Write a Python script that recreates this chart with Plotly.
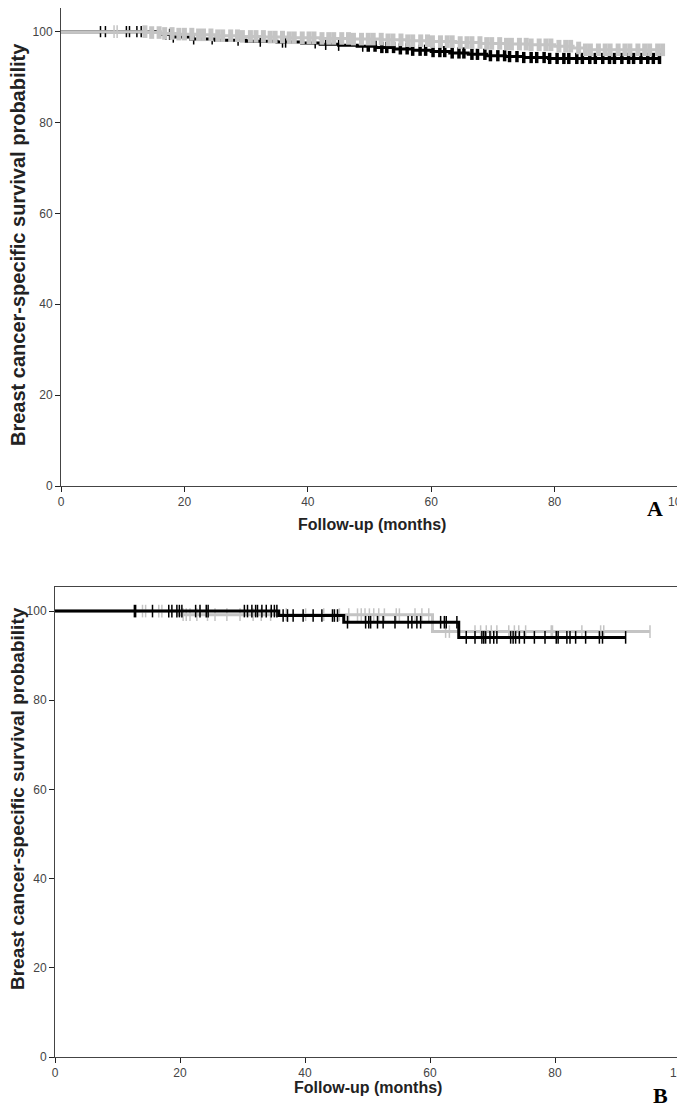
import numpy as np
import plotly.graph_objects as go

# ---------------- Panel A data ----------------
a_black_times = [0, 16, 18, 21, 25, 30, 35, 39, 42, 45, 48, 51, 54, 57, 60, 63, 66, 69, 72, 75, 79]
a_black_surv = [100, 99.4, 98.8, 98.4, 98.1, 97.9, 97.7, 97.5, 97.2, 97.0, 96.8, 96.5, 96.2, 95.9, 95.6, 95.3, 95.0, 94.7, 94.5, 94.3, 94.1]
a_black_end = 97.0
a_black_censor = [6.4, 7.2, 10.6, 11.1, 12.3, 13.0, 17.0, 17.6, 18.2, 21.5, 24.5, 28.7, 32.3, 35.9, 36.4,
                  41.2, 42.9, 45.0, 48.9, 49.8, 50.9, 52.0, 52.8, 53.9, 55.0, 56.1, 57.0, 58.2, 59.1,
                  60.3, 61.4, 62.2, 63.4, 64.5, 65.3, 66.6, 67.5, 68.7, 69.6, 70.8, 71.9, 72.7, 73.9,
                  75.0, 76.2, 77.1, 78.3, 79.2, 80.4, 81.5, 82.3, 83.6, 84.5, 85.7, 86.6, 87.8, 88.9,
                  89.7, 90.9, 92.0, 92.8, 94.0, 95.1, 96.0, 97.0]

a_gray_times = [0, 14, 16, 19, 22, 25, 29, 33, 37, 42, 47, 52, 56, 60, 64, 68, 72, 76, 80, 83, 85]
a_gray_surv = [100, 99.8, 99.6, 99.45, 99.3, 99.1, 98.95, 98.8, 98.65, 98.5, 98.35, 98.2, 98.0, 97.8, 97.6, 97.4, 97.25, 97.1, 96.8, 96.4, 96.0]
a_gray_end = 97.5
a_gray_censor = [8.6, 9.1, 13.6, 14.7, 15.9, 16.8, 18.0, 19.1, 20.0, 21.2, 22.3, 23.1, 24.3, 25.4, 26.2,
                 27.5, 28.6, 29.4, 30.7, 31.6, 32.8, 33.9, 34.7, 35.9, 37.0, 37.8, 39.1, 40.2, 41.0,
                 42.3, 43.4, 44.2, 45.5, 46.6, 47.4, 48.7, 49.8, 50.6, 51.9, 53.0, 53.8, 55.1, 56.2,
                 57.0, 58.3, 59.4, 60.2, 61.5, 62.6, 63.4, 64.7, 65.8, 66.6, 67.9, 69.0, 69.8, 71.1,
                 72.2, 73.0, 74.3, 75.4, 76.2, 77.5, 78.6, 79.4, 80.7, 81.8, 82.6, 83.9, 85.0, 85.8,
                 87.1, 88.2, 89.0, 90.3, 91.4, 92.2, 93.5, 94.6, 95.4, 96.7, 97.5]

# ---------------- Panel B data ----------------
b_black_times = [0, 35.8, 46.2, 64.6]
b_black_surv = [100, 99.0, 97.5, 94.1]
b_black_end = 91.3
b_black_censor = [12.7, 12.9, 15.6, 18.2, 18.7, 19.5, 19.9, 20.3, 22.5, 23.2, 24.2, 24.5, 30.3, 30.8,
                  31.5, 32.1, 32.4, 33.1, 33.8, 34.6, 35.1, 35.5, 36.5, 37.2, 38.1, 39.7, 41.3, 42.7,
                  44.4, 44.7, 45.2, 46.8, 49.7, 50.2, 50.5, 51.6, 52.5, 54.4, 56.5, 57.1, 57.9, 58.5,
                  61.7, 62.3, 62.6, 64.3, 65.8, 67.2, 68.3, 68.6, 68.9, 69.6, 70.2, 70.7, 72.9, 73.3,
                  73.7, 74.3, 75.1, 76.7, 78.4, 80.2, 80.5, 81.9, 82.4, 83.3, 84.9, 87.1, 87.6, 91.3]

b_gray_times = [0, 19.8, 60.4]
b_gray_surv = [100, 99.2, 95.4]
b_gray_end = 95.2
b_gray_censor = [14.0, 14.5, 16.6, 17.1, 20.5, 21.0, 21.6, 22.7, 24.4, 25.6, 27.5, 29.6, 31.7, 33.0,
                 34.5, 37.0, 40.1, 43.0, 45.5, 47.0, 48.4, 49.0, 49.6, 50.3, 51.0, 51.8, 52.7, 54.6,
                 55.1, 57.6, 58.7, 59.8, 62.5, 63.1, 67.2, 68.1, 69.0, 69.8, 70.7, 72.6, 73.5, 74.2,
                 75.3, 79.4, 79.6, 84.3, 87.3, 87.8, 95.2]

x_ticks = [0, 20, 40, 60, 80, 100]
y_ticks = [0, 20, 40, 60, 80, 100]

BLACK = "#000000"
GRAY = "#c4c4c4"


def surv_at(times, surv, t):
    idx = np.searchsorted(np.array(times), np.array(t), side="right") - 1
    return np.array(surv)[idx]


def add_km(fig, times, surv, end, censor, color, xa, ya, msize, mwidth, dense_from=None, dense_width=None):
    xs = list(times) + [end]
    ys = list(surv) + [surv[-1]]
    fig.add_trace(go.Scatter(x=xs, y=ys, mode="lines", line=dict(color=color, width=3, shape="hv"),
                             xaxis=xa, yaxis=ya, showlegend=False, hoverinfo="skip"))
    widths = mwidth
    if dense_from is not None:
        widths = [dense_width if t >= dense_from else mwidth for t in censor]
    fig.add_trace(go.Scatter(x=censor, y=surv_at(times, surv, censor), mode="markers",
                             marker=dict(symbol="line-ns", size=msize, color=color,
                                         line=dict(color=color, width=widths)),
                             xaxis=xa, yaxis=ya, showlegend=False, hoverinfo="skip"))


fig = go.Figure()
# Panel A: black below gray
add_km(fig, a_black_times, a_black_surv, a_black_end, a_black_censor, BLACK, "x", "y", 8, 1.5, 49.5, 3.5)
add_km(fig, a_gray_times, a_gray_surv, a_gray_end, a_gray_censor, GRAY, "x", "y", 9, 1.5, 13.5, 5)
# Panel B: gray below black
add_km(fig, b_gray_times, b_gray_surv, b_gray_end, b_gray_censor, GRAY, "x2", "y2", 9, 1.5)
add_km(fig, b_black_times, b_black_surv, b_black_end, b_black_censor, BLACK, "x2", "y2", 9, 1.5)

# page offset of the plot div (browser body margin)
OFF = 8
W, H = 685 - OFF, 1111 - OFF


def px(v):
    return (v - OFF) / W


def py(v):
    return 1 - (v - OFF) / H


tickfont = dict(family="Liberation Sans, Arial, sans-serif", size=12, color="#444444")
ax_common = dict(showgrid=False, zeroline=False, showline=True, mirror=True, linecolor="#444444",
                 linewidth=1, ticks="outside", ticklen=5, tickcolor="#222222", tickwidth=1,
                 tickfont=tickfont, automargin=False)

fig.update_layout(
    width=W, height=H, margin=dict(l=0, r=0, t=0, b=0),
    paper_bgcolor="white", plot_bgcolor="white",
    xaxis=dict(domain=[px(61), px(678)], anchor="y", range=[0, 100], tickvals=x_ticks,
               ticklabeloverflow="allow", **ax_common),
    yaxis=dict(domain=[py(486), min(py(2), 1)], anchor="x", range=[0, 105.2],
               tickvals=y_ticks, **ax_common),
    xaxis2=dict(domain=[px(55), min(px(680), 1)], anchor="y2", range=[0, 100], tickvals=x_ticks,
                ticklabeloverflow="allow", **ax_common),
    yaxis2=dict(domain=[py(1057), py(587)], anchor="x2", range=[0, 105.4], tickvals=y_ticks, **ax_common),
)

xtitle_font = dict(family="Liberation Sans, Arial, sans-serif", size=16, color="#222222")
ytitle = "<b>Breast cancer-specific survival probability</b>"
xtitle = "<b>Follow-up (months)</b>"
annos = [
    dict(text=xtitle, x=px(372), y=py(524), xref="paper", yref="paper", showarrow=False,
         xanchor="center", yanchor="middle", font=xtitle_font),
    dict(text=xtitle, x=px(368), y=py(1087), xref="paper", yref="paper", showarrow=False,
         xanchor="center", yanchor="middle", font=xtitle_font),
    dict(text=ytitle, x=px(18), y=py(245), xref="paper", yref="paper", showarrow=False,
         xanchor="center", yanchor="middle", textangle=-90,
         font=dict(family="Liberation Sans, Arial, sans-serif", size=20, color="#222222")),
    dict(text=ytitle, x=px(17), y=py(799), xref="paper", yref="paper", showarrow=False,
         xanchor="center", yanchor="middle", textangle=-90,
         font=dict(family="Liberation Sans, Arial, sans-serif", size=19, color="#222222")),
    dict(text="<b>A</b>", x=px(655), y=py(508), xref="paper", yref="paper", showarrow=False,
         xanchor="center", yanchor="middle",
         font=dict(family="Liberation Serif, Times New Roman, serif", size=22, color="#000000")),
    dict(text="<b>B</b>", x=px(660), y=py(1095), xref="paper", yref="paper", showarrow=False,
         xanchor="center", yanchor="middle",
         font=dict(family="Liberation Serif, Times New Roman, serif", size=22, color="#000000")),
]
fig.update_layout(annotations=annos)

fig.write_html("out.html")
